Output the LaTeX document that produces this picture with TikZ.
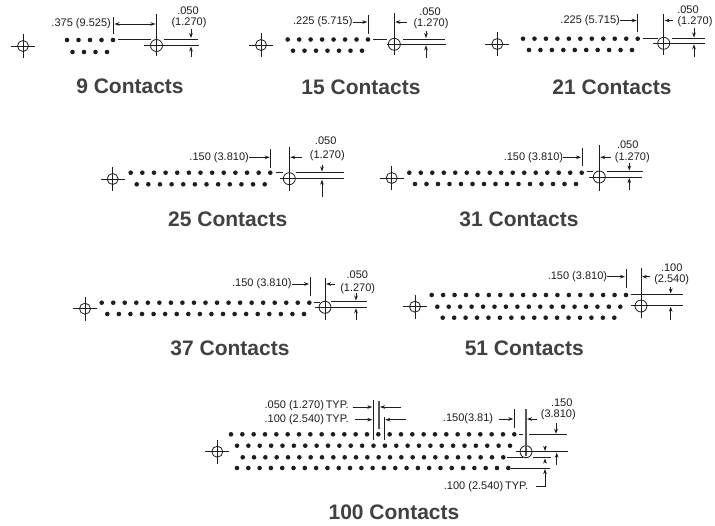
\documentclass[tikz,border=0pt]{standalone}
\usepackage{fontspec}
\setmainfont{Liberation Sans}
\usetikzlibrary{arrows.meta}
\definecolor{ink}{HTML}{1E1E1E}
\definecolor{titlegray}{HTML}{414141}
\tikzset{
  ln/.style={draw=ink,line width=0.8pt},
  heavy/.style={draw=ink!75,line width=1.2pt},
  dim/.style={draw=ink,line width=0.7pt,-{Stealth[length=5pt,width=3.6pt]}},
  dimtext/.style={inner sep=0pt,text=ink,font=\fontsize{11}{11}\selectfont},
  rtext/.style={dimtext,anchor=east},
  ttl/.style={inner sep=0pt,text=titlegray,font=\fontsize{21}{21}\bfseries\selectfont},
  hole/.style={circle,draw=ink,line width=0.8pt,inner sep=0pt,minimum size=12pt}
}
\newcommand{\dotrow}[4]{% x0, x1, n, y
  \foreach \k in {1,...,#3}{
    \pgfmathsetmacro{\xx}{#1+(\k-1)*(#2-(#1))/(#3-1)}
    \fill[ink] (\xx,#4) circle (2.3pt);
  }}
\newcommand{\cross}[3]{% name, x, y
  \node[hole,minimum size=11pt] (#1) at (#2,#3) {};
  \draw[ln] (#2-12,#3) -- (#2+12,#3) (#2,#3-12) -- (#2,#3+12);}
\begin{document}
\begin{tikzpicture}[x=1pt,y=-1pt]
\useasboundingbox (0,0) rectangle (715,525);
\fill[white] (0,0) rectangle (715,525);

% ---- 9
\cross{a9}{23}{46}
\dotrow{67}{113}{5}{40}
\dotrow{72.5}{107}{4}{52}
\node[hole] (b9) at (156.5,45.5) {};
\draw[ln] (156.5,14) -- (156.5,56) (113.5,17) -- (113.5,34);
\draw[ln] (118,39.5) -- (151,39.5) (164,39) -- (198,39) (144,45.5) -- (199,45.5);
\node[rtext] (l9) at (111,23.5) {.375 (9.525)};
\draw[dim] (135,24) -- (155.5,24);
\draw[dim] (135,24) -- (114.5,24);
\draw[dim] (191,29) -- (191,38);
\draw[dim] (191,57) -- (191,46.5);
\node[dimtext] (u9) at (188,11) {.050};
\node[dimtext] (v9) at (189,23) {(1.270)};
\node[ttl] (t9) at (130,86.5) {9 Contacts};

% ---- 15
\cross{a15}{261}{45}
\dotrow{287.7}{368}{8}{39.5}
\dotrow{293}{362}{7}{50.7}
\node[hole] (b15) at (394.3,44.3) {};
\draw[ln] (394.3,13) -- (394.3,55) (368.3,15) -- (368.3,34);
\draw[ln] (373,39) -- (387,39) (403,39) -- (445,39) (387,44.3) -- (446,44.3);
\node[rtext] (l15) at (352.7,22) {.225 (5.715)};
\draw[dim] (l15.east) -- (367.3,22);
\draw[dim] (407,22) -- (395.3,22);
\draw[dim] (426,31) -- (426,38);
\draw[dim] (426,58) -- (426,45.3);
\node[dimtext] (u15) at (430,12) {.050};
\node[dimtext] (v15) at (431,24) {(1.270)};
\node[ttl] (t15) at (361,87) {15 Contacts};

% ---- 21
\cross{a21}{497.3}{44}
\dotrow{523}{637.7}{11}{38.7}
\dotrow{529}{632}{10}{50}
\node[hole] (b21) at (663.7,43.3) {};
\draw[ln] (663.7,14) -- (663.7,55) (637.7,14) -- (637.7,32);
\draw[ln] (643,38.5) -- (658,38.5) (672,38.5) -- (705,38.5) (653,43.3) -- (705,43.3);
\node[rtext] (l21) at (620,20.5) {.225 (5.715)};
\draw[dim] (l21.east) -- (636.7,20.5);
\draw[dim] (673,20.5) -- (664.7,20.5);
\draw[dim] (694,28) -- (694,37.5);
\draw[dim] (694,57) -- (694,44.3);
\node[dimtext] (u21) at (688,9.5) {.050};
\node[dimtext] (v21) at (695,22) {(1.270)};
\node[ttl] (t21) at (612,87) {21 Contacts};

% ---- 25
\cross{a25}{112.7}{179}
\dotrow{130.7}{270.3}{13}{172.7}
\dotrow{136.7}{264.7}{12}{184.3}
\node[hole] (b25) at (289.3,178.7) {};
\draw[ln] (289.3,147) -- (289.3,191) (270.7,149) -- (270.7,167.7);
\draw[ln] (275.7,172.5) -- (283,172.5) (295.7,172) -- (344.3,172) (280,178.7) -- (344.3,178.7);
\node[rtext] (l25) at (249,157.3) {.150 (3.810)};
\draw[dim] (l25.east) -- (269.7,157.3);
\draw[dim] (301.7,157.3) -- (290.3,157.3);
\draw[dim] (322,165) -- (322,171.5);
\draw[dim] (322,196.7) -- (322,179.7);
\node[dimtext] (u25) at (325.7,141) {.050};
\node[dimtext] (v25) at (327.3,155.7) {(1.270)};
\node[ttl] (t25) at (227.7,219) {25 Contacts};

% ---- 31
\cross{a31}{391.7}{178}
\dotrow{409.3}{581.7}{16}{172.7}
\dotrow{415}{576}{15}{184}
\node[hole] (b31) at (599.3,177) {};
\draw[ln] (599.3,145) -- (599.3,191) (582,147.7) -- (582,166);
\draw[ln] (586.7,171.7) -- (593,171.7) (606.7,171.3) -- (642.7,171.3) (589,177) -- (641.7,177);
\node[rtext] (l31) at (563.3,157.3) {.150 (3.810)};
\draw[dim] (l31.east) -- (581,157.3);
\draw[dim] (610.7,157.3) -- (600.3,157.3);
\draw[dim] (629.3,163) -- (629.3,170.5);
\draw[dim] (629.3,190) -- (629.3,178);
\node[dimtext] (u31) at (627.7,144.3) {.050};
\node[dimtext] (v31) at (632.3,157.3) {(1.270)};
\node[ttl] (t31) at (519,219.3) {31 Contacts};

% ---- 37
\cross{a37}{85}{308.7}
\dotrow{101.7}{309.3}{19}{302.7}
\dotrow{107.3}{304}{18}{314}
\node[hole] (b37) at (325,307.3) {};
\draw[ln] (325,277.7) -- (325,320) (310,276.7) -- (310,296);
\draw[ln] (314,302) -- (320,302) (331,301.3) -- (367.3,301.3) (315,307.3) -- (367.3,307.3);
\node[rtext] (l37) at (291.7,284) {.150 (3.810)};
\draw[dim] (l37.east) -- (309,284);
\draw[dim] (335,284) -- (326,284);
\draw[dim] (356,293) -- (356,300.5);
\draw[dim] (356,320) -- (356,308.3);
\node[dimtext] (u37) at (357.3,275) {.050};
\node[dimtext] (v37) at (357.7,288.3) {(1.270)};
\node[ttl] (t37) at (230,348.7) {37 Contacts};

% ---- 51
\cross{a51}{415}{306.7}
\dotrow{431.7}{626}{18}{295}
\dotrow{437.3}{620.3}{17}{306.7}
\dotrow{442.7}{614.3}{16}{317.7}
\node[hole] (b51) at (641,306) {};
\draw[ln] (641,268) -- (641,317.7) (626,269) -- (626,288.3);
\draw[ln] (630.7,294.3) -- (683.3,294.3) (630.7,305.7) -- (683.3,305.7);
\node[rtext] (l51) at (607.3,276.7) {.150 (3.810)};
\draw[dim] (l51.east) -- (625,276.7);
\draw[dim] (650,276.7) -- (642,276.7);
\draw[dim] (670.7,286.7) -- (670.7,293.5);
\draw[dim] (670.7,320) -- (670.7,306.7);
\node[dimtext] (u51) at (671.7,267.3) {.100};
\node[dimtext] (v51) at (671.7,280) {(2.540)};
\node[ttl] (t51) at (524.3,348.7) {51 Contacts};

% ---- 100
\cross{a100}{217.3}{451.7}
\dotrow{231}{514.3}{26}{434.3}
\dotrow{237}{510}{25}{445.7}
\dotrow{242.7}{503.3}{24}{457.3}
\dotrow{237}{508.3}{25}{468}
\node[hole] (b100) at (526,451.7) {};
\draw[heavy] (526,409) -- (526,455.7);
\draw[ln] (514.3,409) -- (514.3,428.3);
\draw[ln] (373.3,400) -- (373.3,440) (384.3,417.3) -- (384.3,440);
\draw[heavy] (379,401) -- (379,429.3);
\node[rtext] (l100a) at (349,406) {.050 (1.270)\,TYP.};
\node[rtext] (l100b) at (349,419.7) {.100 (2.540)\,TYP.};
\draw[dim] (352.7,407) -- (372.3,407);
\draw[dim] (355,419.7) -- (372.3,419.7);
\draw[dim] (401,407) -- (380,407);
\draw[dim] (406,419.7) -- (385.3,419.7);
\node[rtext] (l100c) at (493.3,419) {.150(3.81)};
\draw[dim] (498.7,419) -- (513.3,419);
\draw[dim] (536.7,419) -- (527,419);
\node[dimtext] (u100) at (561.7,402.7) {.150};
\node[dimtext] (v100) at (558.3,415) {(3.810)};
\draw[ln] (519,434.5) -- (523,434.5) (529.3,434.7) -- (566.7,434.7);
\draw[ln] (516,451.7) -- (568,451.7);
\draw[ln] (507,457.7) -- (523,457.7) (532.7,457.7) -- (550.7,457.7);
\draw[ln] (510.7,468) -- (550,468);
\draw[dim] (556,423) -- (556,433.7);
\draw[dim] (556.7,465) -- (556.7,452.7);
\draw[dim] (545,445.7) -- (545,451);
\draw[dim] (545,462) -- (545,458.5);
\node[rtext] (l100d) at (528.3,486.7) {.100 (2.540)\,TYP.};
\draw[dim] (536,486.7) -- (545,486.7) -- (545,469);
\node[ttl] (t100) at (394,512) {100 Contacts};
\end{tikzpicture}
\end{document}
